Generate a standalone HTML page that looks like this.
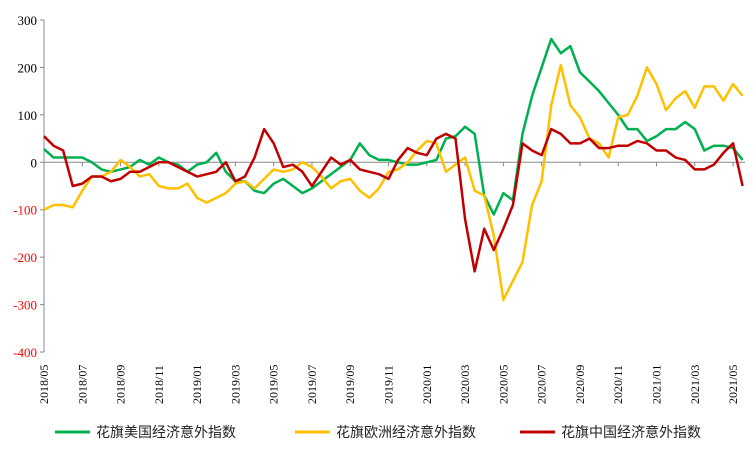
<!DOCTYPE html>
<html><head><meta charset="utf-8"><style>
body{margin:0;background:#fff;}
svg text{font-family:"Liberation Serif","Noto Serif CJK SC",serif;}
.lg{font-family:"Liberation Sans","Noto Sans CJK SC",sans-serif;font-size:14px;fill:#222;}
</style></head><body>
<svg id="chart" width="756" height="453">
<g id="axes"></g><g id="series"></g>
<g>
<line x1="55" y1="432" x2="90" y2="432" stroke="#00B050" stroke-width="3"/>
<text class="lg" x="96" y="437">花旗美国经济意外指数</text>
<line x1="295" y1="432" x2="330" y2="432" stroke="#FFC000" stroke-width="3"/>
<text class="lg" x="336" y="437">花旗欧洲经济意外指数</text>
<line x1="520" y1="432" x2="555" y2="432" stroke="#C00000" stroke-width="3"/>
<text class="lg" x="561" y="437">花旗中国经济意外指数</text>
</g>
</svg>
<script>
const xLabels=["2018/05","2018/07","2018/09","2018/11","2019/01","2019/03","2019/05","2019/07","2019/09","2019/11","2020/01","2020/03","2020/05","2020/07","2020/09","2020/11","2021/01","2021/03","2021/05"];
const yTicks=[300,200,100,0,-100,-200,-300,-400];
const months=[0,0.5,1,1.5,2,2.5,3,3.5,4,4.5,5,5.5,6,6.5,7,7.5,8,8.5,9,9.5,10,10.5,11,11.5,12,12.5,13,13.5,14,14.5,15,15.5,16,16.5,17,17.5,18,18.5,19,19.5,20,20.5,21,21.5,22,22.5,23,23.5,24,24.5,25,25.5,26,26.5,27,27.5,28,28.5,29,29.5,30,30.5,31,31.5,32,32.5,33,33.5,34,34.5,35,35.5,36,36.5];
const usValues=[28,10,10,10,10,0,-15,-20,-15,-10,5,-5,10,0,-5,-20,-5,0,20,-20,-40,-40,-60,-65,-45,-35,-50,-65,-55,-40,-25,-10,5,40,15,5,5,0,-5,-5,0,5,50,55,75,60,-70,-110,-65,-80,60,140,200,260,230,245,190,170,150,125,100,70,70,45,55,70,70,85,70,25,35,35,30,5];
const euValues=[-100,-90,-90,-95,-60,-30,-30,-20,5,-10,-30,-25,-50,-55,-55,-45,-75,-85,-75,-65,-45,-40,-55,-35,-15,-20,-15,0,-10,-30,-55,-40,-35,-60,-75,-55,-20,-15,0,25,45,40,-20,-5,10,-60,-70,-155,-290,-250,-210,-90,-40,120,205,120,95,50,40,10,95,100,140,200,165,110,135,150,115,160,160,130,165,140];
const cnValues=[55,35,25,-50,-45,-30,-30,-40,-35,-20,-20,-10,0,0,-10,-20,-30,-25,-20,0,-40,-30,10,70,40,-10,-5,-20,-50,-20,10,-5,5,-15,-20,-25,-35,5,30,20,15,50,60,50,-120,-230,-140,-185,-140,-90,40,25,15,70,60,40,40,50,30,30,35,35,45,40,25,25,10,5,-15,-15,-5,20,40,-50];
const NS="http://www.w3.org/2000/svg";
const X0=44,PXM=19.14,Y0=162.3,PXV=0.4743;
const xs=m=>X0+m*PXM, ys=v=>Y0-v*PXV;
const axes=document.getElementById('axes'),series=document.getElementById('series');
function mk(t,a,p){const e=document.createElementNS(NS,t);for(const k in a)e.setAttribute(k,a[k]);p.appendChild(e);return e;}
let e=mk('line',{x1:X0,y1:ys(300),x2:X0,y2:ys(-400),stroke:'#888','stroke-width':1},axes);


e=mk('line',{x1:X0,y1:Y0,x2:745,y2:Y0,stroke:'#888','stroke-width':1},axes);


yTicks.forEach(v=>{
 mk('line',{x1:X0-4,y1:ys(v),x2:X0,y2:ys(v),stroke:'#888'},axes);
 const t=mk('text',{x:37,y:ys(v)+5,'text-anchor':'end','font-size':'13',fill:v<0?'#FF0000':'#000'},axes);
 t.textContent=v;
 
 
});
xLabels.forEach((l,i)=>{
 const x=xs(i*2);
 mk('line',{x1:x,y1:Y0,x2:x,y2:Y0+4,stroke:'#888'},axes);
 const t=mk('text',{transform:`translate(${x+4},${404}) rotate(-90)`,'font-size':'12',fill:'#000'},axes);
 t.textContent=l;
 
 
});
[[usValues,'#00B050','us-series'],[euValues,'#FFC000','eu-series'],[cnValues,'#C00000','cn-series']].forEach(([vals,c,n])=>{
 const p=mk('polyline',{points:vals.map((v,i)=>xs(months[i])+','+ys(v)).join(' '),fill:'none',stroke:c,'stroke-width':2.5,'stroke-linejoin':'round'},series);
 
 
});
</script>
</body></html>
